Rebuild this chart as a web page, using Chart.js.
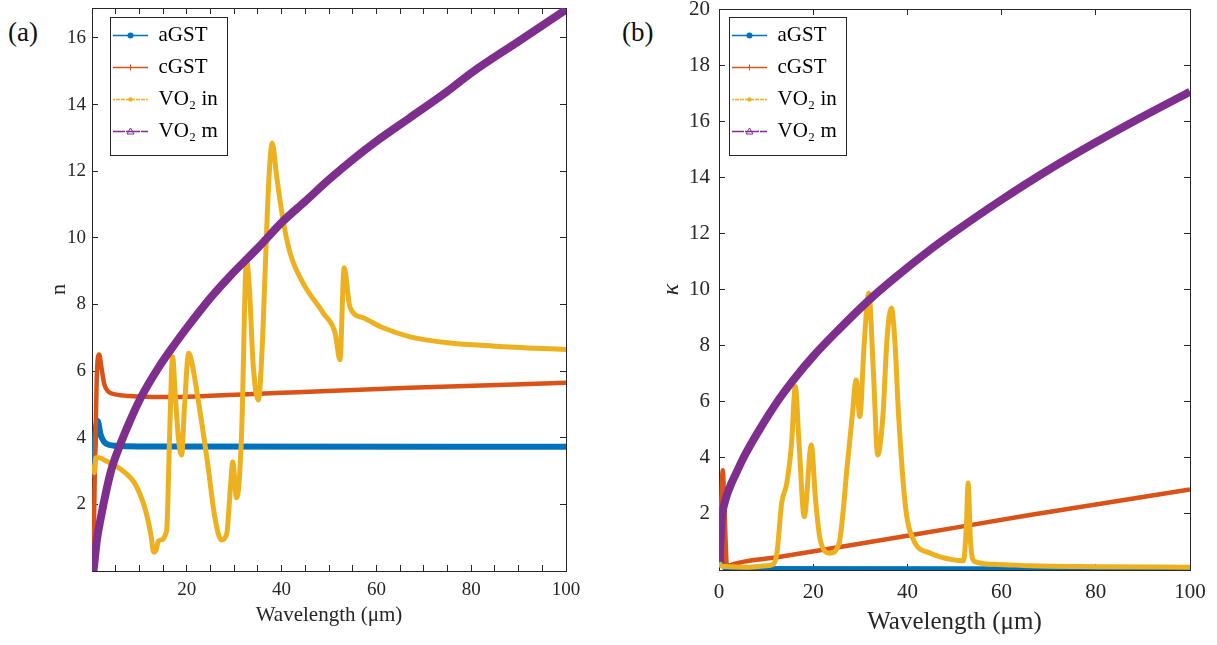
<!DOCTYPE html>
<html>
<head>
<meta charset="utf-8">
<script src="https://cdn.jsdelivr.net/npm/chart.js@4.4.1/dist/chart.umd.min.js"></script>
<style>
  body { margin: 0; background: #fff; width: 1217px; height: 645px; overflow: hidden; position: relative; font-family: "Liberation Serif", serif; }
  .panel { position: absolute; top: 0; height: 645px; }
  #pa { left: 0; width: 608px; }
  #pb { left: 608px; width: 609px; }
  .tag { position: absolute; font-size: 27px; color: #111; line-height: 30px; }
</style>
</head>
<body>
<div class="tag" style="left:8px;top:17px">(a)</div>
<div class="tag" style="left:622px;top:17px">(b)</div>
<div class="panel" id="pa"><canvas id="chartA"></canvas></div>
<div class="panel" id="pb"><canvas id="chartB"></canvas></div>
<script>
// ---- panel (a): refractive index n ----
const n_aGST_x = [0.25, 0.6, 1.2, 1.8, 3, 5, 10, 100];
const n_aGST_y = [2.8, 3.9, 4.5, 4.1, 3.82, 3.76, 3.74, 3.73];

const n_cGST_x = [0.3, 0.6, 1.0, 1.5, 2.0, 2.6, 3.5, 5, 8, 15, 25, 40, 67, 100];
const n_cGST_y = [0.3, 3.0, 5.8, 6.5, 6.1, 5.6, 5.38, 5.3, 5.25, 5.22, 5.26, 5.35, 5.5, 5.65];

const n_VO2in_x = [0.2, 0.5, 0.8, 1.5, 3, 5.4, 7, 9, 10, 11.1, 12, 12.5, 13, 13.5, 14, 15, 15.5, 15.8, 16.4, 17.0,
  17.6, 18.3, 18.9, 19.5, 20.4, 21, 22.3, 24.4, 25.9, 27.3, 28.4, 29.2, 29.7, 30.5, 31, 31.6, 32.6, 33.2, 34, 35.1,
  36, 37, 37.6, 38.0, 39, 40.3, 41.8, 44.5, 48.8, 51.3, 52.3, 53.2, 54.4, 57.2, 61.4, 67.1, 75, 85, 100];
const n_VO2in_y = [3.2, 2.95, 3.4, 3.4, 3.3, 3.12, 2.95, 2.64, 2.35, 1.92, 1.4, 1.02, 0.57, 0.62, 0.9, 0.95, 1.1, 1.3, 4.2, 6.43,
  5.2, 3.9, 3.48, 4.9, 6.54, 6.3, 5.23, 3.23, 1.63, 0.93, 1.1, 2.5, 3.27, 2.2, 2.6, 4.3, 9.34, 8.5, 6.2, 5.13,
  7.0, 10.8, 12.4, 12.85, 11.8, 10.54, 9.54, 8.65, 7.74, 7.14, 6.34, 9.1, 7.93, 7.6, 7.3, 7.03, 6.85, 6.75, 6.65];

const n_VO2m_x = [0.3, 0.5, 1, 1.9, 3, 4, 5.5, 8, 10.4, 14, 17.4, 20, 25, 29.1, 35, 40.3, 45, 50, 55, 60, 67, 75, 80, 90, 100];
const n_VO2m_y = [0, 0.24, 0.9, 1.63, 2.4, 3.0, 3.63, 4.5, 5.23, 6.1, 6.8, 7.3, 8.2, 8.85, 9.7, 10.5, 11.1, 11.75, 12.35, 12.9, 13.6, 14.4, 14.95, 15.9, 16.85];

// ---- panel (b): extinction coefficient kappa ----
const k_aGST_x = [0, 0.2, 0.5, 1, 2, 100];
const k_aGST_y = [0.3, 1.9, 0.8, 0.15, 0.04, 0.02];

const k_cGST_x = [0.1, 0.5, 0.8, 1.1, 1.7, 2, 13, 40, 66, 100];
const k_cGST_y = [0.2, 2.5, 3.56, 2.5, 0.12, 0.15, 0.47, 1.22, 1.96, 2.87];

const k_VO2in_x = [0, 0.5, 2, 6, 10, 11.5, 12.3, 13.3, 14.4, 15.4, 16.2, 17, 18.1, 19.6, 20.5, 21.5, 23.5, 25.5, 26.3, 27.2,
  28.3, 29.1, 29.9, 30.8, 31.8, 32.8, 33.7, 34.8, 35.7, 36.6, 37.4, 38.1, 39.6, 41.3, 44.9, 49.8, 51.9, 52.5, 52.9, 53.4,
  54.3, 59, 66, 80, 100];
const k_VO2in_y = [0.25, 0.15, 0.12, 0.1, 0.15, 0.2, 0.6, 2.38, 3.1, 4.5, 6.54, 4.5, 1.9, 4.46, 2.5, 1.07, 0.6, 0.95, 2.0, 3.68,
  5.5, 6.77, 5.47, 8.0, 9.87, 7.0, 4.1, 5.5, 8.3, 9.34, 8.0, 5.6, 2.26, 1.07, 0.6, 0.36, 0.33, 1.5, 3.1, 1.0,
  0.3, 0.2, 0.15, 0.12, 0.1];

const k_VO2m_x = [0.1, 0.57, 1.2, 2.34, 3.5, 5.2, 7, 8.7, 10.5, 13, 16, 20, 25, 31.7, 37, 45, 50, 60, 70, 80, 90, 100];
const k_VO2m_y = [0.3, 1.78, 2.4, 2.97, 3.4, 4.0, 4.55, 5.03, 5.52, 6.15, 6.82, 7.62, 8.5, 9.6, 10.37, 11.44, 12.05, 13.2, 14.27, 15.25, 16.17, 17.05];

const seriesNames = ["aGST", "cGST", "VO\u2082 in", "VO\u2082 m"];
const seriesColors = ["#0072BD", "#D95319", "#EDB120", "#7E2F8E"];
const legendDashes = [[], [6, 4], [2, 3], [7, 3, 2, 3]];
const markerShapes = ["circle", "plus", "dot", "triangle"];

const serif = "Liberation Serif";
const axisColor = "#262626";

function pts(xs, ys) {
  return xs.map((x, i) => ({ x: x, y: ys[i] }));
}

function makeSets(xs, ys, widths) {
  return xs.map((x, i) => ({
    label: seriesNames[i],
    data: pts(x, ys[i]),
    borderColor: seriesColors[i],
    backgroundColor: seriesColors[i],
    borderWidth: widths[i],
    pointRadius: 0,
    cubicInterpolationMode: "monotone",
    order: 3 - i
  }));
}

// legend sits inside the axes, nudged to where matlab puts it, with a frame round it
const legendFrame = {
  id: "legendFrame",
  afterLayout(chart, args, opts) {
    const lg = chart.legend, ca = chart.chartArea;
    if (!lg) return;
    lg.left = ca.left + opts.dx;
    lg.top = ca.top + opts.dy;
    lg.right = lg.left + lg.width;
    lg.bottom = lg.top + lg.height;
  },
  afterDraw(chart) {
    const lg = chart.legend;
    if (!lg || !lg.legendHitBoxes || !lg.legendHitBoxes.length) return;
    const boxes = lg.legendHitBoxes;
    const ctx = chart.ctx;
    const bw = lg.options.labels.boxWidth;
    const fs = lg.options.labels.font.size;
    ctx.save();
    boxes.forEach((b, i) => {
      const cx = b.left + bw / 2, cy = b.top + fs / 2;
      ctx.fillStyle = seriesColors[i];
      ctx.strokeStyle = seriesColors[i];
      ctx.lineWidth = 1;
      ctx.beginPath();
      if (markerShapes[i] === "triangle") {
        ctx.moveTo(cx, cy - 3.5); ctx.lineTo(cx + 3.5, cy + 2.5); ctx.lineTo(cx - 3.5, cy + 2.5); ctx.closePath(); ctx.stroke();
      } else if (markerShapes[i] === "plus") {
        ctx.moveTo(cx - 3, cy); ctx.lineTo(cx + 3, cy); ctx.moveTo(cx, cy - 3); ctx.lineTo(cx, cy + 3); ctx.stroke();
      } else {
        ctx.arc(cx, cy, markerShapes[i] === "dot" ? 2.2 : 3, 0, Math.PI * 2); ctx.fill();
      }
    });
    const x0 = Math.min(...boxes.map(b => b.left)) - 3;
    const y0 = Math.min(...boxes.map(b => b.top)) - 8;
    const x1 = Math.max(...boxes.map(b => b.left + b.width)) + 9;
    const y1 = Math.max(...boxes.map(b => b.top + b.height)) + 13;
    ctx.strokeStyle = axisColor;
    ctx.lineWidth = 1;
    ctx.setLineDash([]);
    ctx.strokeRect(Math.round(x0) + 0.5, Math.round(y0) + 0.5, Math.round(x1 - x0), Math.round(y1 - y0));
    ctx.restore();
  }
};

function makePanel(id, sets, cfg) {
  const tickFont = { family: serif, size: cfg.tickSize };
  const edge = { color: axisColor, width: 1 };
  const inGrid = { drawOnChartArea: false, tickLength: -6, color: axisColor };
  const noPadX = s => { s.paddingLeft = 0; s.paddingRight = 0; };
  const noPadY = s => { s.paddingTop = 0; s.paddingBottom = 0; };
  return new Chart(document.getElementById(id), {
    type: "line",
    data: { datasets: sets },
    options: {
      responsive: true,
      maintainAspectRatio: false,
      animation: false,
      layout: { padding: cfg.pad },
      plugins: {
        tooltip: { enabled: false },
        legendFrame: { dx: cfg.legDx, dy: cfg.legDy },
        legend: {
          position: "chartArea",
          align: "start",
          labels: {
            boxWidth: 35,
            boxHeight: 0,
            padding: 11,
            color: "#000",
            font: { family: serif, size: 21 },
            generateLabels: chart => chart.data.datasets.map((d, i) => ({
              text: d.label,
              strokeStyle: d.borderColor,
              fillStyle: "rgba(0,0,0,0)",
              lineWidth: 1.3,
              lineDash: legendDashes[i],
              datasetIndex: i,
              hidden: false
            }))
          }
        }
      },
      scales: {
        x: {
          type: "linear", min: 0, max: 100,
          ticks: {
            stepSize: cfg.xStep, autoSkip: false, maxRotation: 0, includeBounds: false,
            color: axisColor, font: tickFont, padding: cfg.xTickPad,
            callback: v => (v % 20 === 0 && (v > 0 || cfg.showZeroX)) ? String(v) : ""
          },
          grid: inGrid, border: edge,
          title: { display: true, text: "Wavelength (\u03bcm)", color: axisColor,
            font: { family: serif, size: cfg.xTitleSize }, padding: { top: 0, bottom: cfg.xTitlePad } },
          afterFit: s => { s.height = cfg.xH; noPadX(s); }
        },
        x2: {
          type: "linear", position: "top", min: 0, max: 100,
          ticks: { display: false, stepSize: cfg.xStep, autoSkip: false, includeBounds: false },
          grid: inGrid, border: edge,
          afterFit: s => { s.height = 0; noPadX(s); }
        },
        y: {
          type: "linear", min: 0, max: cfg.yMax,
          ticks: {
            stepSize: 2, includeBounds: false, color: axisColor, font: tickFont, padding: cfg.yTickPad,
            callback: v => v === 0 ? "" : String(v)
          },
          grid: inGrid, border: edge,
          title: { display: true, text: cfg.yTitle, color: axisColor,
            font: { family: serif, size: cfg.yTitleSize, style: cfg.yTitleStyle }, padding: { top: cfg.yTitlePad, bottom: 0 } },
          afterFit: s => { s.width = cfg.yW; noPadY(s); }
        },
        y2: {
          type: "linear", position: "right", min: 0, max: cfg.yMax,
          ticks: { display: false, stepSize: 2, includeBounds: false },
          grid: inGrid, border: edge,
          afterFit: s => { s.width = 0; noPadY(s); }
        }
      }
    },
    plugins: [legendFrame]
  });
}

makePanel("chartA",
  makeSets([n_aGST_x, n_cGST_x, n_VO2in_x, n_VO2m_x], [n_aGST_y, n_cGST_y, n_VO2in_y, n_VO2m_y], [6, 4.5, 5, 8]),
  { pad: { left: 0, right: 42, top: 8, bottom: 0 }, yW: 92, xH: 74, yMax: 16.9, xStep: 5, showZeroX: false,
    tickSize: 19, xTickPad: 14, yTickPad: 12, xTitleSize: 21, xTitlePad: 17,
    yTitle: "n", yTitleSize: 22, yTitleStyle: "normal", yTitlePad: 46, legDx: 10, legDy: 6 });

makePanel("chartB",
  makeSets([k_aGST_x, k_cGST_x, k_VO2in_x, k_VO2m_x], [k_aGST_y, k_cGST_y, k_VO2in_y, k_VO2m_y], [6, 4.5, 5, 8]),
  { pad: { left: 0, right: 27, top: 9, bottom: 0 }, yW: 111, xH: 75, yMax: 20, xStep: 20, showZeroX: true,
    tickSize: 21, xTickPad: 16, yTickPad: 15, xTitleSize: 25, xTitlePad: 8,
    yTitle: "\u03ba", yTitleSize: 24, yTitleStyle: "italic", yTitlePad: 49, legDx: 2, legDy: 5 });
</script>
</body>
</html>
